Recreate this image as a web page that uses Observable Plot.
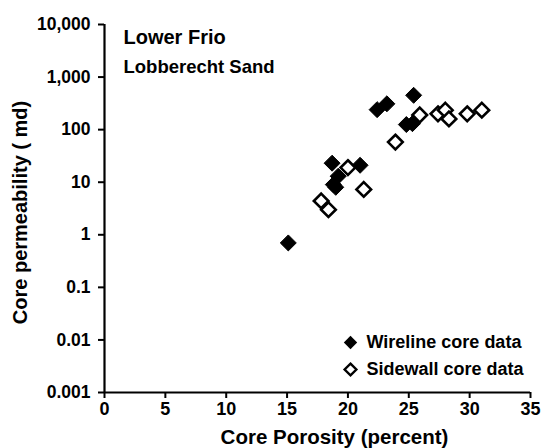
<!DOCTYPE html>
<html>
<head>
<meta charset="utf-8">
<script src="https://cdn.jsdelivr.net/npm/d3@7"></script>
<script src="https://cdn.jsdelivr.net/npm/@observablehq/plot@0.6"></script>
<style>
  html, body { margin: 0; padding: 0; background: #fff; }
  #chart svg { display: block; }
</style>
</head>
<body>
<div id="chart"></div>
<script>
// Wireline core data (filled diamonds): porosity (%), permeability (md)
const wirelinePorosity = [15.1, 18.7, 19.2, 18.8, 19.0, 21.0, 22.4, 23.2, 25.4, 24.8, 25.3];
const wirelinePerm     = [0.7,  23,   13,   9,    8,    21,   240,  310,  450,  125,  130];

// Sidewall core data (open diamonds)
const sidewallPorosity = [17.8, 18.4, 20.0, 21.3, 23.9, 25.9, 27.4, 28.0, 28.3, 29.8, 31.0];
const sidewallPerm     = [4.4,  3.0,  19,   7.3,  58,   190,  200,  235,  160,  200,  235];

const xTicks = [0, 5, 10, 15, 20, 25, 30, 35];
const yTicks = [0.001, 0.01, 0.1, 1, 10, 100, 1000, 10000];
const yTickLabels = ["0.001", "0.01", "0.1", "1", "10", "100", "1,000", "10,000"];

const xTitle = "Core Porosity (percent)";
const yTitle = "Core permeability ( md)";
const noteLines = ["Lower Frio", "Lobberecht Sand"];
const legendLabels = ["Wireline core data", "Sidewall core data"];

const wireline = wirelinePorosity.map((x, i) => ({x, y: wirelinePerm[i]}));
const sidewall = sidewallPorosity.map((x, i) => ({x, y: sidewallPerm[i]}));

const font = "'Liberation Sans', Arial, sans-serif";

const chart = Plot.plot({
  width: 547,
  height: 448,
  marginLeft: 104,
  marginRight: 17,
  marginTop: 24,
  marginBottom: 56,
  style: {fontFamily: font, fontWeight: "bold", fontSize: "18px", color: "#000", background: "#fff"},
  x: {domain: [0, 35]},
  y: {type: "log", domain: [0.001, 10000]},
  marks: [
    Plot.axisX({ticks: xTicks, tickSize: 6, tickPadding: 4, strokeWidth: 2, label: null, fontSize: 18}),
    Plot.axisY({ticks: yTicks, tickSize: 6, tickPadding: 8, strokeWidth: 2, label: null, fontSize: 17.5,
      tickFormat: (d) => yTickLabels[yTicks.indexOf(d)]}),
    Plot.ruleX([0], {strokeWidth: 2.2}),
    Plot.ruleY([0.001], {strokeWidth: 2.2}),
    Plot.text([xTitle], {frameAnchor: "bottom", textAnchor: "middle", dx: 17, dy: 45, fontSize: 20.5, lineAnchor: "middle"}),
    Plot.text([yTitle], {frameAnchor: "left", textAnchor: "middle", dx: -84, dy: 4, rotate: -90, fontSize: 20, lineAnchor: "middle"}),
    Plot.text([noteLines[0]], {frameAnchor: "top-left", textAnchor: "start", dx: 19, dy: 13, fontSize: 20, lineAnchor: "middle"}),
    Plot.text([noteLines[1]], {frameAnchor: "top-left", textAnchor: "start", dx: 19, dy: 43, fontSize: 18.5, lineAnchor: "middle"}),
    Plot.dot(sidewall, {x: "x", y: "y", symbol: "diamond2", r: 6.6, fill: "#fff", stroke: "#000", strokeWidth: 2.6}),
    Plot.dot(wireline, {x: "x", y: "y", symbol: "diamond2", r: 7.2, fill: "#000", stroke: "#000", strokeWidth: 1}),
    // legend
    Plot.dot([0], {frameAnchor: "bottom-right", dx: -180, dy: -50, symbol: "diamond2", r: 6, fill: "#000"}),
    Plot.dot([0], {frameAnchor: "bottom-right", dx: -180, dy: -23, symbol: "diamond2", r: 5.3, fill: "#fff", stroke: "#000", strokeWidth: 2.4}),
    Plot.text([legendLabels[0]], {frameAnchor: "bottom-right", textAnchor: "start", dx: -164, dy: -50, fontSize: 18, lineAnchor: "middle"}),
    Plot.text([legendLabels[1]], {frameAnchor: "bottom-right", textAnchor: "start", dx: -164, dy: -23, fontSize: 18, lineAnchor: "middle"})
  ]
});
document.getElementById("chart").appendChild(chart);
</script>
</body>
</html>
